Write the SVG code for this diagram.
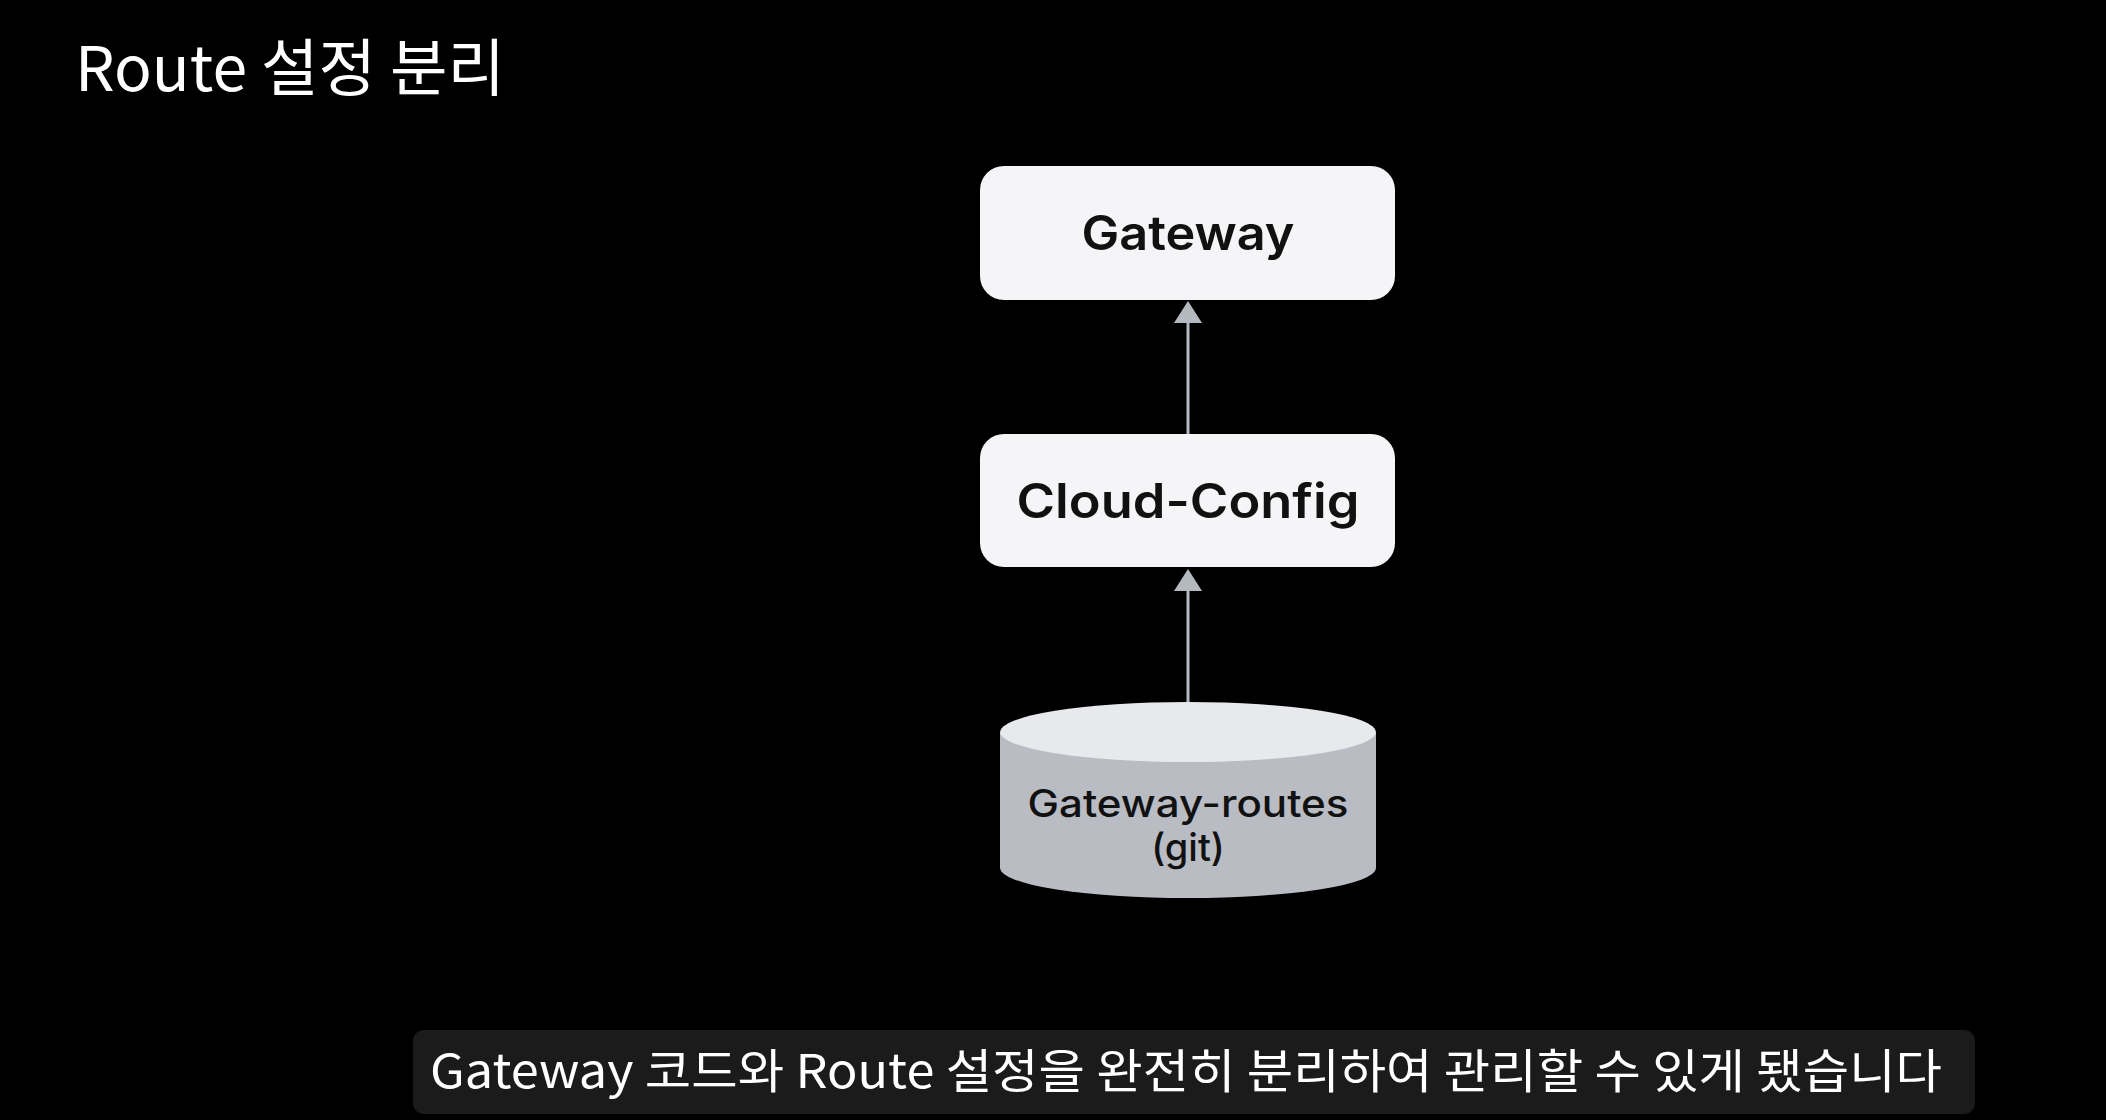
<svg xmlns="http://www.w3.org/2000/svg" width="2106" height="1120" viewBox="0 0 2106 1120">
<defs>
<style>
.box{fill:#f5f5f7;}
.lbl{font-family:Inter,"Liberation Sans",sans-serif;font-weight:600;font-size:48px;fill:#111;text-anchor:middle;}
.dbl{font-family:Inter,"Liberation Sans",sans-serif;font-weight:500;font-size:38px;fill:#111;text-anchor:middle;}
.conn{stroke:#b4b8bf;stroke-width:3;fill:none;}
</style>
<marker id="ah" viewBox="0 0 28 22" refX="14" refY="0" markerWidth="28" markerHeight="22" markerUnits="userSpaceOnUse" orient="auto-start-reverse">
<path d="M0,22 L14,0 L28,22 Z" fill="#b4b8bf"/>
</marker>
</defs>
<rect width="2106" height="1120" fill="#000"/>
<text x="75" y="91" font-family="'Noto Sans CJK KR','Noto Sans',sans-serif" font-size="62" fill="#fff" textLength="430" lengthAdjust="spacingAndGlyphs">Route 설정 분리</text>
<g id="connectors">
<line class="conn" x1="1188" y1="435" x2="1188" y2="323"/>
<path d="M1174,323 L1188,301 L1202,323 Z" fill="#b4b8bf"/>
<line class="conn" x1="1188" y1="702" x2="1188" y2="591"/>
<path d="M1174,591 L1188,569 L1202,591 Z" fill="#b4b8bf"/>
</g>
<g id="gateway">
<rect class="box" x="980" y="166" width="415" height="134" rx="24"/>
<text class="lbl" x="1188" y="250" textLength="213" lengthAdjust="spacingAndGlyphs">Gateway</text>
</g>
<g id="cloud-config">
<rect class="box" x="980" y="434" width="415" height="133" rx="24"/>
<text class="lbl" x="1188" y="518" textLength="343" lengthAdjust="spacingAndGlyphs">Cloud-Config</text>
</g>
<g id="gateway-routes">
<path d="M1000,732 L1000,868 A188,30 0 0 0 1376,868 L1376,732 Z" fill="#b9bcc3"/>
<ellipse cx="1188" cy="732" rx="188" ry="30" fill="#e8e9ec"/>
<text class="dbl" x="1188" y="817" textLength="321" lengthAdjust="spacingAndGlyphs">Gateway-routes</text>
<text class="dbl" x="1188" y="861">(git)</text>
</g>
<g id="subtitle">
<rect x="413" y="1030" width="1562" height="84" rx="11" fill="#1b1b1b"/>
<text x="430" y="1088" font-family="'Noto Sans CJK KR','Noto Sans',sans-serif" font-size="47" fill="#fff" textLength="1512" lengthAdjust="spacingAndGlyphs">Gateway 코드와 Route 설정을 완전히 분리하여 관리할 수 있게 됐습니다</text>
</g>
</svg>
